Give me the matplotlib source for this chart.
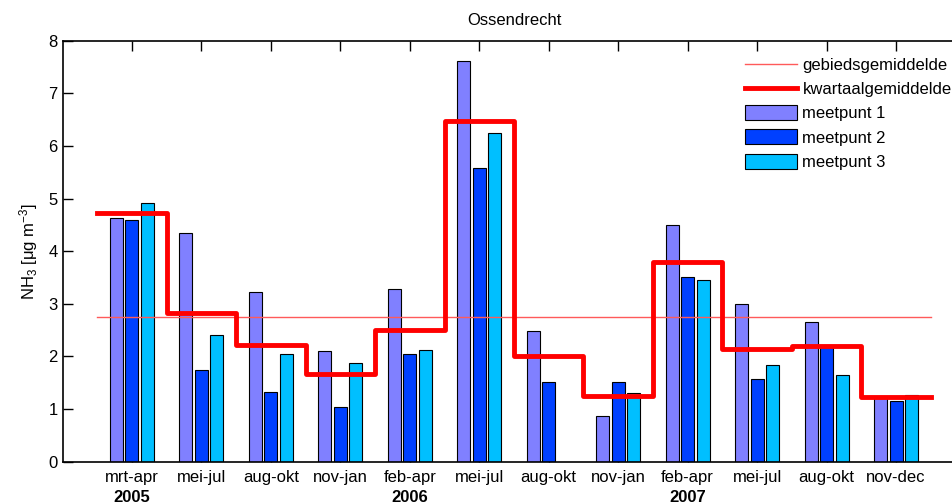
import numpy as np
import matplotlib
matplotlib.use("Agg")
import matplotlib.pyplot as plt
import matplotlib.transforms as mtransforms

plt.rcParams['font.family'] = ['Liberation Sans', 'DejaVu Sans']
plt.rcParams['mathtext.fontset'] = 'custom'
plt.rcParams['mathtext.rm'] = 'Liberation Sans'
plt.rcParams['mathtext.it'] = 'Liberation Sans:italic'

# Data
periods = ["mrt-apr", "mei-jul", "aug-okt", "nov-jan", "feb-apr", "mei-jul",
           "aug-okt", "nov-jan", "feb-apr", "mei-jul", "aug-okt", "nov-dec"]
years = {1: "2005", 5: "2006", 9: "2007"}
meetpunt1 = [4.64, 4.34, 3.23, 2.11, 3.28, 7.61, 2.48, 0.86, 4.49, 3.00, 2.65, 1.22]
meetpunt2 = [4.59, 1.74, 1.32, 1.03, 2.05, 5.58, 1.52, 1.52, 3.51, 1.57, 2.18, 1.15]
meetpunt3 = [4.91, 2.40, 2.05, 1.88, 2.13, 6.24, np.nan, 1.30, 3.46, 1.84, 1.64, 1.27]
kwartaal = [4.72, 2.82, 2.21, 1.67, 2.50, 6.48, 2.00, 1.24, 3.80, 2.14, 2.19, 1.23]
gebied = 2.75

x = np.arange(1, len(periods) + 1)

fig = plt.figure(figsize=(9.53, 5.03), dpi=100)
ax = fig.add_axes([0.0656, 0.0821, 0.9475, 0.837])
ax.set_axisbelow(True)

w = 0.187
off = 0.223
cols = ["#8080ff", "#0040ff", "#00bfff"]
b1 = ax.bar(x - off, meetpunt1, w, color=cols[0], edgecolor="black", linewidth=0.8, label="meetpunt 1")
b2 = ax.bar(x, meetpunt2, w, color=cols[1], edgecolor="black", linewidth=0.8, label="meetpunt 2")
b3 = ax.bar(x + off, meetpunt3, w, color=cols[2], edgecolor="black", linewidth=0.8, label="meetpunt 3")

# gebieds- en kwartaalgemiddelde
edges = np.append(x - 0.5, x[-1] + 0.5)
l1, = ax.plot([edges[0], edges[-1]], [gebied, gebied], color="#ff5a5a", linewidth=1, label="gebiedsgemiddelde")
l2, = ax.step(edges, kwartaal + [kwartaal[-1]], where="post", color="#ff0000", linewidth=3.5,
              label="kwartaalgemiddelde")

ax.set_xlim(0, 13)
ax.set_ylim(0, 8)
ax.set_xticks(x)
ax.set_xticklabels(periods, fontsize=12)
ax.set_yticks(range(0, 9))
ax.tick_params(axis="both", direction="in", length=7, labelsize=12, top=True, width=1)
ax.tick_params(axis="x", pad=6)
ax.spines["right"].set_visible(False)
for s in ["left", "top", "bottom"]:
    ax.spines[s].set_linewidth(1.2)

ax.set_title("Ossendrecht", fontsize=12, pad=11)
ax.set_ylabel(r"NH$_3$ [μg m$^{-3}$]", fontsize=12, labelpad=6)

trans = mtransforms.blended_transform_factory(ax.transData, fig.transFigure)
for pos, yr in years.items():
    ax.text(pos, 1 - 497 / 503, yr, transform=trans, ha="center", va="center",
            fontsize=12, fontweight="bold")

fig.legend([l1, l2, b1, b2, b3],
           ["gebiedsgemiddelde", "kwartaalgemiddelde", "meetpunt 1", "meetpunt 2", "meetpunt 3"],
           loc="upper left", bbox_to_anchor=(745 / 953, 1 - 57 / 503), frameon=False,
           fontsize=12, borderpad=0, borderaxespad=0, handlelength=3.1, handleheight=1.0,
           handletextpad=0.35, labelspacing=0.48)

fig.savefig("out.png", dpi=100)
